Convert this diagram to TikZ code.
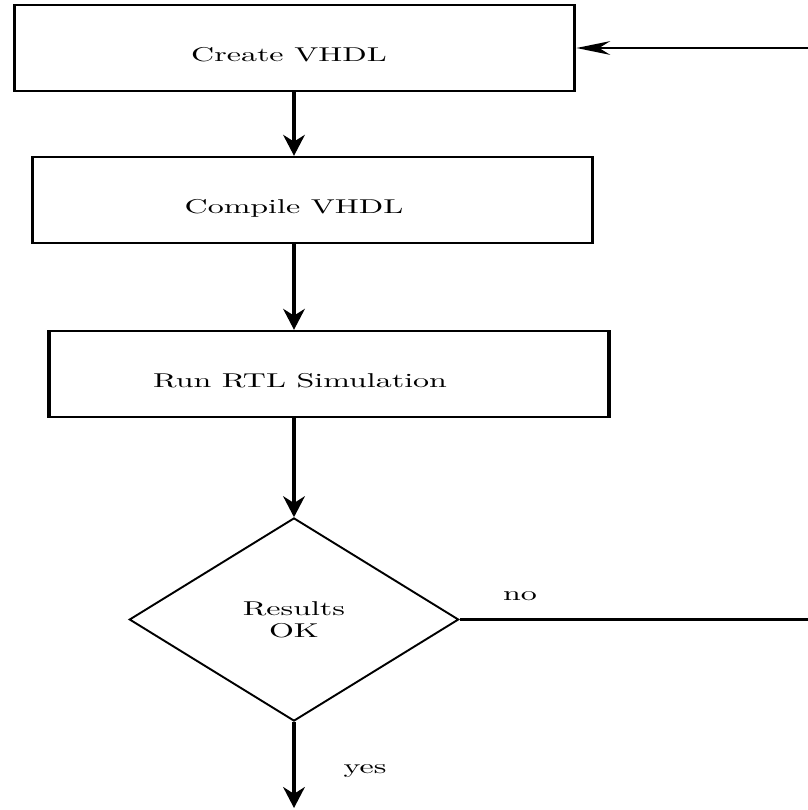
\documentclass[tikz,border=0pt]{standalone}
\usetikzlibrary{shapes.geometric, arrows.meta}

\begin{document}
\begin{tikzpicture}[
                block/.style={draw, line width=1.2pt, minimum width=175pt, minimum height=43pt, inner sep=0pt},
                decision/.style={diamond, draw, line width=0.8pt, minimum width=103pt, minimum height=101.5pt, inner sep=0pt, align=center, font=\fontsize{10}{11}\selectfont},
                txt/.style={inner sep=0pt, font=\fontsize{10}{12}\selectfont},
                flow/.style={-{Stealth[length=10.5pt, width=6.8pt]}, line width=1.2pt},
                back/.style={line width=1.2pt}
            ]
                \useasboundingbox (0,0) rectangle (404pt,-405pt);
                \begin{scope}[transform canvas={xscale=1.6}, x=0.3125pt, y=-0.5pt]
                % Process boxes
                \node[block] (create) at (294.5, 48) {};
                \node[txt] (createtxt) at (289, 55) {Create VHDL};
                \node[block] (compile) at (312.5, 200) {};
                \node[txt] (compiletxt) at (294, 208) {Compile VHDL};
                \node[block] (runsim) at (329, 374) {};
                \node[txt] (runtxt) at (300, 380.5) {Run RTL Simulation};
                
                % Decision
                \node[decision] (check) at (294, 619.5) {Results\\OK};
                
                % Free ends at the picture border
                \coordinate (done) at (294, 808);
                \coordinate (noend) at (808, 619.5);
                \coordinate (backin) at (808, 48);
                
                % Flow down
                \draw[flow] (create.south -| check.north) -- (compile.north -| check.north);
                \draw[flow] (compile.south -| check.north) -- (runsim.north -| check.north);
                \draw[flow] (runsim.south -| check.north) -- (check.north);
                \draw[flow] (check.south) -- (done);
                \node[txt] (yeslbl) at (365, 771.5) {yes};
                
                % Loop back
                \draw[back] (check.east) -- (noend);
                \node[txt] (nolbl) at (520, 596) {no};
                \draw[flow] (backin) -- (create.east);
                \end{scope}
            \end{tikzpicture}
\end{document}
